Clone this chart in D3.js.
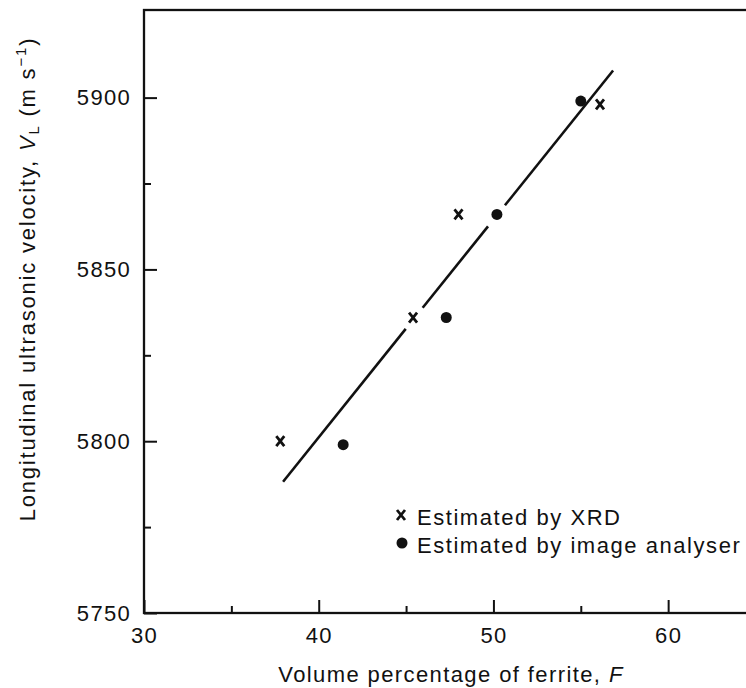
<!DOCTYPE html>
<html>
<head>
<meta charset="utf-8">
<script src="https://cdn.jsdelivr.net/npm/d3@7"></script>
<style>
  body { margin: 0; background: #fff; }
  text { font-family: "Liberation Sans", Arial, sans-serif; fill: #111; }
</style>
</head>
<body>
<script>
// data
var xrdF = [37.8, 45.4, 48.0, 56.1];
var xrdV = [5800, 5836, 5866, 5898];
var imgF = [41.4, 47.3, 50.2, 55.0];
var imgV = [5799, 5836, 5866, 5899];
var fitF = [37.96, 56.85];   // ends of the fitted line
var fitV = [5788.2, 5907.9];
var fitGaps = [[44.98, 45.95], [49.69, 50.66]];  // breaks in the drawn line
var xMajor = [30, 40, 50, 60];
var xMinor = [35, 45, 55];
var yMajor = [5750, 5800, 5850, 5900];
var yMinor = [5775, 5825, 5875];
var legendItems = ["Estimated by XRD", "Estimated by image analyser"];

var W = 746, H = 688;

var svg = d3.select( "body" ).append( "svg" )
  .attr( "width", W )
  .attr( "height", H );

var x = d3.scaleLinear().domain( [30, 65] ).range( [144, 755.5] );
var y = d3.scaleLinear().domain( [5750, 5925.5] ).range( [613, 10] );

// frame (right side runs off the page like the scan)
svg.append( "rect" )
  .attr( "x", x( 30 ) )
  .attr( "y", y( 5925.5 ) )
  .attr( "width", x( 65 ) - x( 30 ) )
  .attr( "height", y( 5750 ) - y( 5925.5 ) )
  .attr( "fill", "none" )
  .attr( "stroke", "#111" )
  .attr( "stroke-width", 2.3 );

// axes with inward ticks
var xAxis = svg.append( "g" )
  .attr( "transform", "translate(0," + y( 5750 ) + ")" )
  .call( d3.axisBottom( x ).tickValues( xMajor ).tickSize( -13 ).tickPadding( 14 ).tickFormat( d3.format( "d" ) ) );

var xAxisMinor = svg.append( "g" )
  .attr( "transform", "translate(0," + y( 5750 ) + ")" )
  .call( d3.axisBottom( x ).tickValues( xMinor ).tickSize( -7 ).tickFormat( "" ) );

var yAxis = svg.append( "g" )
  .attr( "transform", "translate(" + x( 30 ) + ",0)" )
  .call( d3.axisLeft( y ).tickValues( yMajor ).tickSize( -13 ).tickPadding( 13 ).tickFormat( d3.format( "d" ) ) );

var yAxisMinor = svg.append( "g" )
  .attr( "transform", "translate(" + x( 30 ) + ",0)" )
  .call( d3.axisLeft( y ).tickValues( yMinor ).tickSize( -7 ).tickFormat( "" ) );

svg.selectAll( ".domain" ).remove();
svg.selectAll( ".tick line" ).attr( "stroke", "#111" ).attr( "stroke-width", 2 );
svg.selectAll( ".tick text" )
  .style( "font-family", "'Liberation Sans', Arial, sans-serif" )
  .attr( "font-size", 22 )
  .attr( "letter-spacing", 1.3 )
  .attr( "fill", "#111" );

// axis titles
svg.append( "text" )
  .attr( "x", 451 )
  .attr( "y", 682 )
  .attr( "text-anchor", "middle" )
  .attr( "font-size", 22 )
  .attr( "letter-spacing", 1.4 )
  .text( "Volume percentage of ferrite, " )
  .append( "tspan" )
  .attr( "font-style", "italic" )
  .text( "F" );

var yTitle = svg.append( "text" )
  .attr( "transform", "translate(35,279) rotate(-90)" )
  .attr( "text-anchor", "middle" )
  .attr( "font-size", 22 )
  .attr( "letter-spacing", 1.8 );
yTitle.append( "tspan" ).text( "Longitudinal ultrasonic velocity, " );
yTitle.append( "tspan" ).attr( "font-style", "italic" ).text( "V" );
yTitle.append( "tspan" ).attr( "font-size", 15 ).attr( "dy", 4 ).text( "L" );
yTitle.append( "tspan" ).attr( "dy", -4 ).text( "  (m s" );
yTitle.append( "tspan" ).attr( "font-size", 15 ).attr( "dy", -9 ).text( "\u22121" );
yTitle.append( "tspan" ).attr( "dy", 9 ).text( ")" );

// fitted line, drawn in pieces with the breaks seen in the figure
var fit = d3.scaleLinear().domain( fitF ).range( fitV );
var breaks = [fitF[0]];
fitGaps.forEach( function ( g ) { breaks.push( g[0], g[1] ); } );
breaks.push( fitF[1] );
var pieces = [];
for ( var i = 0; i < breaks.length; i += 2 ) {
  pieces.push( [breaks[i], breaks[i + 1]] );
}

svg.selectAll( "line.fit" )
  .data( pieces )
  .enter().append( "line" )
  .attr( "class", "fit" )
  .attr( "x1", function ( d ) { return x( d[0] ); } )
  .attr( "y1", function ( d ) { return y( fit( d[0] ) ); } )
  .attr( "x2", function ( d ) { return x( d[1] ); } )
  .attr( "y2", function ( d ) { return y( fit( d[1] ) ); } )
  .attr( "stroke", "#111" )
  .attr( "stroke-width", 2.6 );

// cross marker
function cross( sel ) {
  sel.append( "path" )
    .attr( "d", "M-4,-5L4,5M4,-5L-4,5" )
    .attr( "stroke", "#111" )
    .attr( "stroke-width", 2.8 )
    .attr( "fill", "none" );
}

svg.selectAll( "g.xrd" )
  .data( xrdF )
  .enter().append( "g" )
  .attr( "class", "xrd" )
  .attr( "transform", function ( d, i ) {
    return "translate(" + x( d ) + "," + y( xrdV[i] ) + ")";
  } )
  .call( cross );

svg.selectAll( "circle.img" )
  .data( imgF )
  .enter().append( "circle" )
  .attr( "class", "img" )
  .attr( "cx", function ( d ) { return x( d ); } )
  .attr( "cy", function ( d, i ) { return y( imgV[i] ); } )
  .attr( "r", 5.5 )
  .attr( "fill", "#111" );

// legend
var legend = svg.append( "g" ).attr( "transform", "translate(401,515)" );

legend.append( "g" ).call( cross );
legend.append( "circle" )
  .attr( "cx", 1 )
  .attr( "cy", 28 )
  .attr( "r", 5.5 )
  .attr( "fill", "#111" );

legend.selectAll( "text" )
  .data( legendItems )
  .enter().append( "text" )
  .attr( "x", 16 )
  .attr( "y", function ( d, i ) { return 10 + i * 28; } )
  .attr( "font-size", 22 )
  .attr( "letter-spacing", 1.55 )
  .text( function ( d ) { return d; } );
</script>
</body>
</html>
